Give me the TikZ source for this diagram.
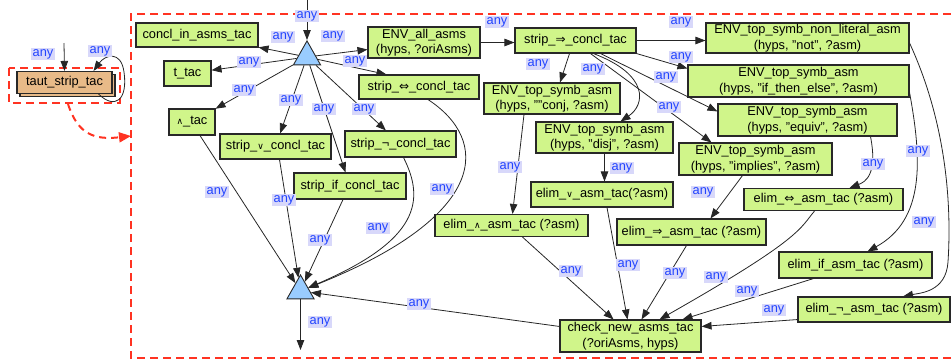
\documentclass[tikz,border=0pt]{standalone}
\usepackage{fontspec}
\setmainfont{Liberation Sans}
\newfontfamily\symf{DejaVu Sans}
\usetikzlibrary{arrows.meta,shapes.geometric,shadows}
\definecolor{nodegreen}{RGB}{208,245,138}
\definecolor{nodeborder}{RGB}{40,40,40}
\definecolor{tautorange}{RGB}{232,186,136}
\definecolor{trifill}{RGB}{153,204,255}
\definecolor{reddash}{RGB}{255,51,34}
\definecolor{labbg}{RGB}{216,216,250}
\definecolor{labtext}{RGB}{34,68,255}
\newcommand{\fsz}{\fontsize{12.8}{15.5}\selectfont}
\newcommand{\wedgesym}[1]{{\symf\fontsize{9}{10}\selectfont #1}}
\newcommand{\arrsym}[1]{{\symf\fontsize{12}{14}\selectfont #1}}
\begin{document}
\begin{tikzpicture}[x=1pt,y=-1pt,
  box/.style={draw=nodeborder, line width=1.1pt, fill=nodegreen, inner sep=0pt, align=center, font=\fsz, text=black},
  wh/.style 2 args={minimum width=#1pt, minimum height=#2pt},
  tri/.style={isosceles triangle, isosceles triangle apex angle=59, shape border rotate=90, draw=nodeborder, fill=trifill, line width=0.9pt, inner sep=0pt, minimum size=24pt},
  arr/.style={draw=black!85, line width=0.8pt, -{Triangle[length=10pt,width=7.5pt]}},
  lab/.style={fill=labbg, text=labtext, font=\fsz, inner xsep=2pt, inner ysep=1pt},
  rdash/.style={draw=reddash, line width=1.5pt, dash pattern=on 8pt off 5pt},
]
\useasboundingbox (0,0) rectangle (951,360);

% red dashed frames
\draw[rdash] (951,14) -- (131,14) -- (131,358) -- (951,358);
\draw[rdash] (9,68) rectangle (120,103);

% taut node
\node[box, fill=tautorange, wh={95}{22}, copy shadow={shadow xshift=3pt, shadow yshift=-3pt, fill=tautorange, draw=nodeborder}] (taut) at (64.5,82.5) {taut\_strip\_tac};

% triangles
\node[tri, anchor=apex] (T1) at (307,40) {};
\node[tri, anchor=apex] (T2) at (300.5,274) {};

% green nodes
\node[box, wh={122}{24}] (concl) at (197,35) {concl\_in\_asms\_tac};
\node[box, wh={47}{25}] (ttac) at (187.5,73.5) {t\_tac};
\node[box, wh={46}{26}] (andtac) at (192,122) {\wedgesym{∧}\_tac};
\node[box, wh={111}{25}] (sor) at (275.5,146.5) {strip\_\wedgesym{∨}\_concl\_tac};
\node[box, wh={112}{26}] (sif) at (350,186) {strip\_if\_concl\_tac};
\node[box, wh={111}{26}] (snot) at (400.5,144) {strip\_¬\_concl\_tac};
\node[box, wh={120}{24}] (siff) at (419,87) {strip\_\arrsym{⇔}\_concl\_tac};
\node[box, wh={112}{31}] (envall) at (424,42.5) {ENV\_all\_asms\\(hyps, ?oriAsms)};
\node[box, wh={121}{25}] (simp) at (575.5,40.5) {strip\_\arrsym{⇒}\_concl\_tac};
\node[box, wh={136}{31}] (conj) at (552,98.5) {ENV\_top\_symb\_asm\\(hyps, ""conj, ?asm)};
\node[box, wh={137}{31}] (disj) at (604.5,137.5) {ENV\_top\_symb\_asm\\(hyps, "disj", ?asm)};
\node[box, wh={203}{30}] (nonlit) at (807.5,38) {ENV\_top\_symb\_non\_literal\_asm\\(hyps, "not", ?asm)};
\node[box, wh={221}{32}] (ite) at (798.5,81) {ENV\_top\_symb\_asm\\(hyps, "if\_then\_else", ?asm)};
\node[box, wh={179}{32}] (equiv) at (807.5,120) {ENV\_top\_symb\_asm\\(hyps, "equiv", ?asm)};
\node[box, wh={153}{32}] (implies) at (755.5,159) {ENV\_top\_symb\_asm\\(hyps, "implies", ?asm)};
\node[box, wh={142}{25}] (elimor) at (602,194.5) {elim\_\wedgesym{∨}\_asm\_tac(?asm)};
\node[box, wh={153}{22}] (elimand) at (511.5,225.5) {elim\_\wedgesym{∧}\_asm\_tac (?asm)};
\node[box, wh={149}{26}] (elimimp) at (691.5,232) {elim\_\arrsym{⇒}\_asm\_tac (?asm)};
\node[box, wh={159}{22}] (elimiff) at (823.5,199.5) {elim\_\arrsym{⇔}\_asm\_tac (?asm)};
\node[box, wh={153}{26}] (elimif) at (855.5,265) {elim\_if\_asm\_tac (?asm)};
\node[box, wh={152}{25}] (elimnot) at (874,309.5) {elim\_¬\_asm\_tac (?asm)};
\node[box, wh={141}{32}] (check) at (630.5,336) {check\_new\_asms\_tac\\(?oriAsms, hyps)};

% free ends
\coordinate (topin) at (307,0);
\coordinate (tautin) at (64,43);
\coordinate (botout) at (300.5,350);
\coordinate (rs) at (68,104);
\coordinate (re) at (131,136);

% red dashed arrow
\draw[draw=reddash, line width=2pt, dash pattern=on 7pt off 5pt, -{Triangle[length=12pt,width=10pt,fill=reddash]}] (rs) .. controls (78,135) and (95,140) .. (re);

% taut edges
\draw[arr] (tautin) -- (taut.north);
\draw[arr] ([xshift=-14pt]taut.south east) .. controls (115,110) and (128,100) .. (124,72) .. controls (121,50) and (105,55) .. ([xshift=-19pt]taut.north east);

% top triangle
\draw[arr] (topin) -- (T1.apex);
\draw[arr] (T1) -- (concl);
\draw[arr] (T1) -- (ttac);
\draw[arr] (T1) -- (andtac);
\draw[arr] (T1) -- (sor);
\draw[arr] (T1) -- (sif);
\draw[arr] (T1) -- (snot);
\draw[arr] (T1) -- ([xshift=28pt]siff.north west);
\draw[arr] (T1) -- (envall);

% envall / strip =>
\draw[arr] (envall.east) -- (envall.east -| simp.west);
\draw[arr] ([xshift=-6pt]simp.south) -- ([xshift=8pt]conj.north);
\draw[arr] ([xshift=18pt]simp.south) .. controls (650,75) and (645,105) .. ([xshift=16pt]disj.north);
\draw[arr] (simp.east) -- (simp.east -| nonlit.west);
\draw[arr] (simp.south east) -- ([yshift=-4pt]ite.north west);
\draw[arr] ([xshift=25pt]simp.south) -- ([yshift=-8pt]equiv.north west);
\draw[arr] ([xshift=15pt]simp.south) -- ([xshift=33pt]implies.north west);

% ENV -> elim
\draw[arr] ([xshift=-28pt]conj.south) -- ([xshift=1pt]elimand.north);
\draw[arr] (disj.south) -- (disj.south |- elimor.north);
\draw[arr] ([xshift=-13pt]implies.south) -- ([xshift=19pt]elimimp.north);
\draw[arr] ([xshift=63pt]equiv.south) .. controls (878,175) and (865,182) .. ([xshift=26pt]elimiff.north);
\draw[arr] ([yshift=5pt]ite.south east) .. controls (922,160) and (925,220) .. ([xshift=12pt]elimif.north);
\draw[arr] ([yshift=-5pt]nonlit.east) .. controls (945,120) and (952,200) .. (948,262) .. controls (946,292) and (920,293) .. ([xshift=29pt]elimnot.north);

% elim -> check
\draw[arr] ([xshift=11pt]elimand.south) -- ([xshift=-17pt]check.north);
\draw[arr] ([xshift=5pt]elimor.south) -- ([xshift=-3pt]check.north);
\draw[arr] ([xshift=-5pt]elimimp.south) -- ([xshift=11pt]check.north);
\draw[arr] ([xshift=-9pt]elimiff.south) .. controls (800,228) and (803,238) .. ([xshift=29pt]check.north);
\draw[arr] ([xshift=-42pt]elimif.south) -- ([xshift=52pt]check.north);
\draw[arr] ([yshift=3pt]elimnot.south west) -- ([yshift=-7pt]check.north east);
\draw[arr] ([yshift=-7pt]check.north west) -- (T2);

% into bottom triangle
\draw[arr] ([xshift=8pt]andtac.south) -- (T2);
\draw[arr] ([xshift=4pt]sor.south) -- (T2);
\draw[arr] ([xshift=-7pt]sif.south) -- (T2);
\draw[arr] ([xshift=3pt]snot.south) .. controls (425,200) and (420,240) .. (T2);
\draw[arr] ([xshift=9pt]siff.south) .. controls (490,140) and (490,215) .. (T2);
\draw[arr] (T2) -- (botout);

% labels
\node[lab] (l1) at (43,54) {any};
\node[lab] (l2) at (100,51) {any};
\node[lab] (l3) at (307,16) {any};
\node[lab] (l4) at (283,37) {any};
\node[lab] (l5) at (249,62) {any};
\node[lab] (l6) at (244,90) {any};
\node[lab] (l7) at (291,100) {any};
\node[lab] (l8) at (324,109) {any};
\node[lab] (l9) at (364,109) {any};
\node[lab] (l10) at (355,61) {any};
\node[lab] (l11) at (333,36) {any};
\node[lab] (l12) at (497,22) {any};
\node[lab] (l13) at (538,64) {any};
\node[lab] (l14) at (593,69) {any};
\node[lab] (l15) at (681,22) {any};
\node[lab] (l16) at (681,57) {any};
\node[lab] (l17) at (666,77) {any};
\node[lab] (l18) at (669,107) {any};
\node[lab] (l19) at (510,167) {any};
\node[lab] (l20) at (622,168) {any};
\node[lab] (l21) at (703,192) {any};
\node[lab] (l22) at (873,164) {any};
\node[lab] (l23) at (918,151) {any};
\node[lab] (l24) at (924,222) {any};
\node[lab] (l25) at (571,271) {any};
\node[lab] (l26) at (628,265) {any};
\node[lab] (l27) at (675,273) {any};
\node[lab] (l28) at (716,277) {any};
\node[lab] (l29) at (747,291) {any};
\node[lab] (l30) at (774,310) {any};
\node[lab] (l31) at (419,304) {any};
\node[lab] (l32) at (217,192) {any};
\node[lab] (l33) at (284,200) {any};
\node[lab] (l34) at (320,240) {any};
\node[lab] (l35) at (378,228) {any};
\node[lab] (l36) at (442,189) {any};
\node[lab] (l37) at (320,322) {any};
\end{tikzpicture}
\end{document}
